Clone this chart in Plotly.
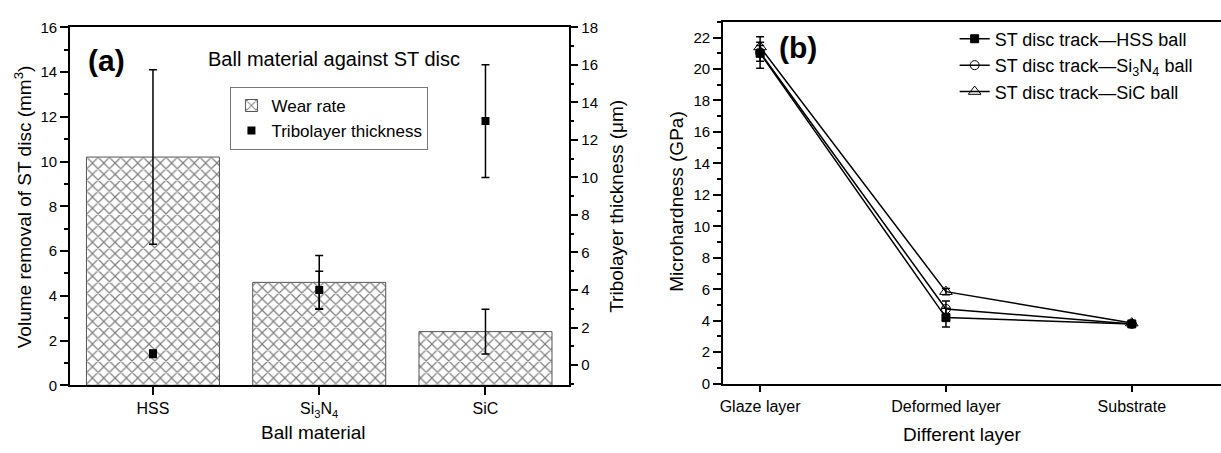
import plotly.graph_objects as go

# ---------------- data: panel (a) ----------------
ball_materials = ["HSS", "Si<sub>3</sub>N<sub>4</sub>", "SiC"]
wear_volume = [10.2, 4.6, 2.4]          # mm^3
wear_volume_err = [3.9, 1.2, 1.0]
tribolayer_thickness = [0.6, 4.0, 13.0]  # um
tribolayer_err = [0.2, 1.0, 3.0]

# ---------------- data: panel (b) ----------------
layers = ["Glaze layer", "Deformed layer", "Substrate"]
hard_hss = [21.0, 4.2, 3.8]
hard_hss_err = [0.5, 0.6, 0.1]
hard_si3n4 = [21.05, 4.75, 3.8]
hard_si3n4_err = [1.0, 0.5, 0.1]
hard_sic = [21.4, 5.85, 3.85]
hard_sic_err = [0.3, 0.2, 0.1]

W, H = 1221, 453
FONT = "Liberation Sans, Arial, sans-serif"

def px_x(p):
    return p / W

def px_y(p):
    return 1 - p / H

xa = list(range(len(ball_materials)))
xb = list(range(len(layers)))

fig = go.Figure()

fig.add_trace(go.Bar(
    x=xa, y=wear_volume, name="Wear rate", width=0.8,
    marker=dict(color="white", line=dict(color="#555", width=1),
                pattern=dict(shape="x", size=8, solidity=0.28,
                             fgcolor="#000", bgcolor="white")),
    error_y=dict(type="data", array=wear_volume_err, color="black",
                 thickness=1.5, width=4),
    xaxis="x", yaxis="y", legend="legend",
))
fig.add_trace(go.Scatter(
    x=xa, y=tribolayer_thickness, name="Tribolayer thickness", mode="markers",
    marker=dict(symbol="square", size=8, color="black"),
    error_y=dict(type="data", array=tribolayer_err, color="black",
                 thickness=1.5, width=4),
    xaxis="x", yaxis="y2", legend="legend",
))

series_b = [
    ("ST disc track\u2014HSS ball", hard_hss, hard_hss_err,
     dict(symbol="square", size=8, color="black", line=dict(color="black", width=1))),
    ("ST disc track\u2014Si<sub>3</sub>N<sub>4</sub> ball", hard_si3n4, hard_si3n4_err,
     dict(symbol="circle-open", size=9, color="black", line=dict(width=1))),
    ("ST disc track\u2014SiC ball", hard_sic, hard_sic_err,
     dict(symbol="triangle-up-open", size=11, color="black", line=dict(width=1))),
]
for name, vals, errs, mk in series_b:
    fig.add_trace(go.Scatter(
        x=xb, y=vals, name=name, mode="lines+markers",
        line=dict(color="black", width=1.5), marker=mk,
        error_y=dict(type="data", array=errs, color="black",
                     thickness=1.5, width=4),
        xaxis="x2", yaxis="y3", legend="legend2",
    ))

tickfont = dict(family=FONT, size=15, color="black")
catfont = dict(family=FONT, size=16, color="black")
common_line = dict(showline=True, linecolor="black", linewidth=1.5,
                   showgrid=False, zeroline=False)

fig.update_layout(
    width=W, height=H,
    margin=dict(l=0, r=0, t=0, b=0),
    paper_bgcolor="white", plot_bgcolor="white",
    font=dict(family=FONT, color="black"),
    bargap=0.2,
    xaxis=dict(domain=[px_x(67), px_x(567)], range=[-0.5, 2.5],
               tickvals=xa, ticktext=ball_materials, ticks="outside",
               ticklen=8, tickwidth=1.5, tickcolor="black", mirror=True,
               tickfont=catfont, anchor="y", **common_line),
    xaxis3=dict(domain=[px_x(67), px_x(567)], range=[-0.5, 2.5],
                overlaying="x", side="top", anchor="y", tickvals=xa,
                ticktext=["", "", ""],
                ticks="inside", ticklen=7, tickwidth=1.5, tickcolor="black",
                showticklabels=False, showline=False, showgrid=False,
                zeroline=False),
    yaxis=dict(domain=[px_y(391), px_y(19)], range=[0, 16], dtick=2,
               ticks="outside", ticklen=8, tickwidth=1.5, tickcolor="black",
               minor=dict(dtick=1, ticks="outside", ticklen=4,
                          tickwidth=1.5, tickcolor="black"),
               tickfont=tickfont, anchor="x", **common_line),
    yaxis2=dict(domain=[px_y(391), px_y(19)], range=[-1.08, 18], dtick=2,
                overlaying="y", side="right", anchor="x",
                ticks="outside", ticklen=8, tickwidth=1.5, tickcolor="black",
                minor=dict(dtick=1, ticks="outside", ticklen=4,
                           tickwidth=1.5, tickcolor="black"),
                tickfont=tickfont, **common_line),
    xaxis2=dict(domain=[px_x(721.7), 1.0], range=[-0.2, 2.48],
                tickvals=xb, ticktext=layers, ticks="outside", ticklen=7,
                tickwidth=1.5, tickcolor="black", mirror=True,
                tickfont=catfont, anchor="y3", **common_line),
    yaxis3=dict(domain=[px_y(389.3), px_y(13.3)], range=[0, 23], dtick=2,
                ticks="outside", ticklen=8, tickwidth=1.5, tickcolor="black",
                minor=dict(dtick=1, ticks="outside", ticklen=4,
                           tickwidth=1.5, tickcolor="black"),
                tickfont=tickfont, anchor="x2", **common_line),
    legend=dict(x=px_x(228), y=px_y(81), xanchor="left", yanchor="top",
                bgcolor="white", bordercolor="#777", borderwidth=1,
                font=dict(family=FONT, size=17, color="black"),
                tracegroupgap=0, itemwidth=30),
    legend2=dict(x=px_x(954), y=px_y(12), xanchor="left", yanchor="top",
                 bgcolor="rgba(0,0,0,0)", borderwidth=0,
                 font=dict(family=FONT, size=18, color="black"),
                 tracegroupgap=0, itemwidth=30),
)

annotations = [
    dict(text="<b>(a)</b>", x=px_x(104), y=px_y(54), font=dict(size=30)),
    dict(text="Ball material against ST disc", x=px_x(332), y=px_y(52),
         font=dict(size=20)),
    dict(text="Volume removal of ST disc (mm<sup>3</sup>)", x=px_x(20),
         y=px_y(205), textangle=-90, font=dict(size=19)),
    dict(text="Tribolayer thickness (\u03bcm)", x=px_x(615), y=px_y(205),
         textangle=-90, font=dict(size=19)),
    dict(text="Ball material", x=px_x(311), y=px_y(440), font=dict(size=19)),
    dict(text="<b>(b)</b>", x=px_x(797), y=px_y(40), font=dict(size=30)),
    dict(text="Microhardness (GPa)", x=px_x(675), y=px_y(200),
         textangle=-90, font=dict(size=19)),
    dict(text="Different layer", x=px_x(962), y=px_y(442), font=dict(size=19)),
]
for a in annotations:
    a.update(xref="paper", yref="paper", showarrow=False,
             xanchor="center", yanchor="middle")
    a["font"] = dict(family=FONT, color="black", **a["font"])
fig.update_layout(annotations=annotations)

fig.write_html("out.html")
